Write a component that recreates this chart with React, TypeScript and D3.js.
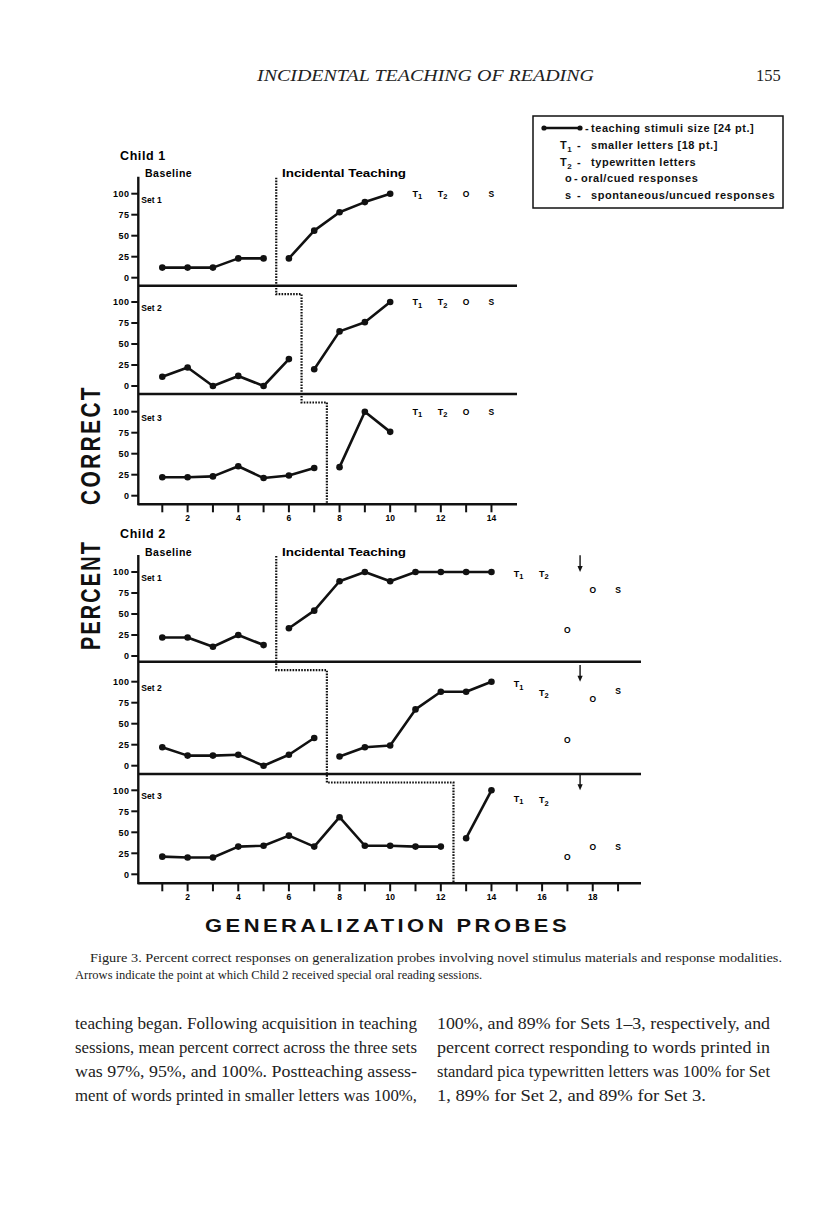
import React from "react";
import * as d3 from "d3";

// ---------- data ----------
const yTickValues = [0, 25, 50, 75, 100];
const child1TickSessions = [1, 2, 3, 4, 5, 6, 7, 8, 9, 10, 11, 12, 13, 14];
const child1TickLabels = [2, 4, 6, 8, 10, 12, 14];
const child2TickSessions = [1, 2, 3, 4, 5, 6, 7, 8, 9, 10, 11, 12, 13, 14, 15, 16, 17, 18, 19];
const child2TickLabels = [2, 4, 6, 8, 10, 12, 14, 16, 18];

// Child 1
const c1Set1Baseline = [12, 12, 12, 23, 23];
const c1Set1Teaching = [23, 56, 78, 90, 100];
const c1Set2Baseline = [11, 22, 0, 12, 0, 32];
const c1Set2Teaching = [20, 65, 76, 100];
const c1Set3Baseline = [22, 22, 23, 35, 21, 24, 33];
const c1Set3Teaching = [34, 100, 76];

// Child 2
const c2Set1Baseline = [22, 22, 11, 25, 13];
const c2Set1Teaching = [33, 54, 89, 100, 89, 100, 100, 100, 100];
const c2Set2Baseline = [22, 12, 12, 13, 0, 13, 33];
const c2Set2Teaching = [11, 22, 24, 67, 88, 88, 100];
const c2Set3Baseline = [21, 20, 20, 33, 34, 46, 33, 68, 34, 34, 33, 33];
const c2Set3Teaching = [43, 100];

// probe labels: [label, session, value]
const c1Set1Probes: [string, number, number][] = [["T1", 11, 100], ["T2", 12, 100], ["O", 13, 100], ["S", 14, 100]];
const c1Set2Probes: [string, number, number][] = [["T1", 11, 100], ["T2", 12, 100], ["O", 13, 100], ["S", 14, 100]];
const c1Set3Probes: [string, number, number][] = [["T1", 11, 100], ["T2", 12, 100], ["O", 13, 100], ["S", 14, 100]];
const c2Set1Probes: [string, number, number][] = [["T1", 15, 98], ["T2", 16, 98], ["O", 17, 31], ["O", 18, 79], ["S", 19, 79]];
const c2Set2Probes: [string, number, number][] = [["T1", 15, 97], ["T2", 16, 87], ["O", 17, 31], ["O", 18, 79], ["S", 19, 89]];
const c2Set3Probes: [string, number, number][] = [["T1", 15, 90], ["T2", 16, 88], ["O", 17, 21], ["O", 18, 32], ["S", 19, 32]];

const arrowSession = 17.5;
const arrowRange = [120, 100];

const legendItems = [
  ["line", "teaching stimuli size [24 pt.]"],
  ["T1", "smaller letters [18 pt.]"],
  ["T2", "typewritten letters"],
  ["o", "oral/cued responses"],
  ["s", "spontaneous/uncued responses"],
];

const captionLines = [
  "Figure 3.   Percent correct responses on generalization probes involving novel stimulus materials and response modalities.",
  "Arrows indicate the point at which Child 2 received special oral reading sessions.",
];
const leftColumn = [
  "teaching began. Following acquisition in teaching",
  "sessions, mean percent correct across the three sets",
  "was 97%, 95%, and 100%. Postteaching assess-",
  "ment of words printed in smaller letters was 100%,",
];
const rightColumn = [
  "100%, and 89% for Sets 1\u20133, respectively, and",
  "percent correct responding to words printed in",
  "standard pica typewritten letters was 100% for Set",
  "1, 89% for Set 2, and 89% for Set 3.",
];

// ---------- layout ----------
const SANS = "'Liberation Sans', Arial, sans-serif";
const SERIF = "'Liberation Serif', 'Times New Roman', serif";
const AXIS_X = 138.3;
const x = d3.scaleLinear().domain([1, 19]).range([162.3, 162.3 + 18 * 25.32]);

type Panel = {
  setName: string;
  baseline: number[];
  teaching: number[];
  probes: [string, number, number][];
  y0: number;
  bottom: number;
  arrow: boolean;
};

const child1Panels: Panel[] = [
  { setName: "Set  1", baseline: c1Set1Baseline, teaching: c1Set1Teaching, probes: c1Set1Probes, y0: 277.7, bottom: 285.7, arrow: false },
  { setName: "Set  2", baseline: c1Set2Baseline, teaching: c1Set2Teaching, probes: c1Set2Probes, y0: 386, bottom: 394, arrow: false },
  { setName: "Set  3", baseline: c1Set3Baseline, teaching: c1Set3Teaching, probes: c1Set3Probes, y0: 495.7, bottom: 504.3, arrow: false },
];
const child2Panels: Panel[] = [
  { setName: "Set  1", baseline: c2Set1Baseline, teaching: c2Set1Teaching, probes: c2Set1Probes, y0: 656, bottom: 661.7, arrow: true },
  { setName: "Set  2", baseline: c2Set2Baseline, teaching: c2Set2Teaching, probes: c2Set2Probes, y0: 765.7, bottom: 774, arrow: true },
  { setName: "Set  3", baseline: c2Set3Baseline, teaching: c2Set3Teaching, probes: c2Set3Probes, y0: 874.3, bottom: 883.3, arrow: true },
];

function ProbeLabel({ label, px, py }: { label: string; px: number; py: number }) {
  if (label.startsWith("T")) {
    return (
      <text x={px - 3} y={py + 3} fontFamily={SANS} fontWeight="bold" fontSize={9}>
        T<tspan dy={2.5} fontSize={7.5}>{label.slice(1)}</tspan>
      </text>
    );
  }
  return (
    <text x={px} y={py + 3} fontFamily={SANS} fontWeight="bold" fontSize={8.5} textAnchor="middle">
      {label}
    </text>
  );
}

function PanelView({ p, axisEnd }: { p: Panel; axisEnd: number }) {
  const y = d3.scaleLinear().domain([0, 100]).range([p.y0, p.y0 - 84]);
  const line = d3
    .line<[number, number]>()
    .x((d) => x(d[0]))
    .y((d) => y(d[1]));
  const basePts: [number, number][] = p.baseline.map((v, i) => [i + 1, v]);
  const teachPts: [number, number][] = p.teaching.map((v, i) => [p.baseline.length + 1 + i, v]);
  return (
    <g>
      <line x1={AXIS_X} x2={axisEnd} y1={p.bottom} y2={p.bottom} stroke="#111" strokeWidth={2.4} />
      {yTickValues.map((t) => (
        <g key={t}>
          <line x1={AXIS_X - 7} x2={AXIS_X} y1={y(t)} y2={y(t)} stroke="#111" strokeWidth={2} />
          <text x={AXIS_X - 9} y={y(t) + 3.3} textAnchor="end" fontFamily={SANS} fontWeight="bold" fontSize={9} letterSpacing={0.4}>
            {t}
          </text>
        </g>
      ))}
      <text x={AXIS_X + 3} y={y(100) + 9} fontFamily={SANS} fontWeight="bold" fontSize={8.5}>
        {p.setName}
      </text>
      {[basePts, teachPts].map((pts, k) => (
        <g key={k}>
          <path d={line(pts) || ""} fill="none" stroke="#111" strokeWidth={2.6} strokeLinejoin="round" />
          {pts.map((d, i) => (
            <circle key={i} cx={x(d[0])} cy={y(d[1])} r={3.3} fill="#111" />
          ))}
        </g>
      ))}
      {p.probes.map(([lab, s, v], i) => (
        <ProbeLabel key={i} label={lab} px={x(s)} py={y(v)} />
      ))}
      {p.arrow && (
        <g>
          <line x1={x(arrowSession)} x2={x(arrowSession)} y1={y(arrowRange[0])} y2={y(arrowRange[1]) - 5} stroke="#111" strokeWidth={1.4} />
          <path
            d={`M${x(arrowSession) - 2.6},${y(arrowRange[1]) - 6} L${x(arrowSession) + 2.6},${y(arrowRange[1]) - 6} L${x(arrowSession)},${y(arrowRange[1])} Z`}
            fill="#111"
          />
        </g>
      )}
    </g>
  );
}

function ChildBlock({
  panels,
  name,
  nameY,
  phaseY,
  axisTop,
  axisEnd,
  tickSessions,
  tickLabels,
}: {
  panels: Panel[];
  name: string;
  nameY: number;
  phaseY: number;
  axisTop: number;
  axisEnd: number;
  tickSessions: number[];
  tickLabels: number[];
}) {
  const last = panels[panels.length - 1];
  // staircase phase-change line
  let d = "";
  panels.forEach((p, i) => {
    const px = x(p.baseline.length + 0.5);
    if (i === 0) d += `M${px},${axisTop + 1}`;
    else {
      const prev = panels[i - 1];
      d += ` L${x(prev.baseline.length + 0.5)},${prev.bottom + 8.5} L${px},${prev.bottom + 8.5}`;
    }
  });
  d += ` L${x(last.baseline.length + 0.5)},${last.bottom}`;
  return (
    <g>
      <text x={120} y={nameY} fontFamily={SANS} fontWeight="bold" fontSize={12.5} letterSpacing={0.6}>
        {name}
      </text>
      <text x={145} y={phaseY} fontFamily={SANS} fontWeight="bold" fontSize={10.5} letterSpacing={0.5}>
        Baseline
      </text>
      <text x={282} y={phaseY} fontFamily={SANS} fontWeight="bold" fontSize={10.5} textLength={124} lengthAdjust="spacingAndGlyphs">
        Incidental Teaching
      </text>
      <line x1={AXIS_X} x2={AXIS_X} y1={axisTop} y2={last.bottom + 1} stroke="#111" strokeWidth={2.4} />
      {panels.map((p, i) => (
        <PanelView key={i} p={p} axisEnd={axisEnd} />
      ))}
      <path d={d} fill="none" stroke="#111" strokeWidth={2.2} strokeDasharray="1.6 1.3" />
      {tickSessions.map((s) => (
        <line key={s} x1={x(s)} x2={x(s)} y1={last.bottom} y2={last.bottom + 8} stroke="#111" strokeWidth={2} />
      ))}
      {tickLabels.map((s) => (
        <text key={s} x={x(s)} y={last.bottom + 17} textAnchor="middle" fontFamily={SANS} fontWeight="bold" fontSize={8.5}>
          {s}
        </text>
      ))}
    </g>
  );
}

function Legend() {
  const top = 116;
  const rowY = [128, 145, 162, 178.5, 195];
  return (
    <g fontFamily={SANS} fontWeight="bold" fontSize={11} fill="#111" letterSpacing={0.55}>
      <rect x={533} y={top} width={250} height={92} fill="none" stroke="#111" strokeWidth={1.5} />
      {legendItems.map(([key, label], i) => {
        const yy = rowY[i] + 3.8;
        let sym: React.ReactNode = null;
        if (key === "line") {
          sym = (
            <g>
              <line x1={544} x2={581} y1={rowY[i]} y2={rowY[i]} stroke="#111" strokeWidth={2.4} />
              <circle cx={544} cy={rowY[i]} r={2.6} fill="#111" />
              <circle cx={580} cy={rowY[i]} r={2.6} fill="#111" />
            </g>
          );
        } else if (key.startsWith("T")) {
          sym = (
            <text x={560} y={yy}>
              T<tspan dy={3} fontSize={8}>{key.slice(1)}</tspan>
            </text>
          );
        } else {
          sym = (
            <text x={565} y={yy}>
              {key}
            </text>
          );
        }
        const dashX = key === "line" ? 585 : key === "o" ? 574 : 577;
        const textX = key === "o" ? 581 : 591;
        return (
          <g key={i}>
            {sym}
            <text x={dashX} y={yy}>-</text>
            <text x={textX} y={yy}>{label}</text>
          </g>
        );
      })}
    </g>
  );
}

export default function App() {
  return (
    <svg
      width={816}
      height={1219}
      viewBox="0 0 816 1219"
      style={{ position: "absolute", left: 0, top: 0, display: "block", background: "#fff" }}
    >
      <rect x={0} y={0} width={816} height={1219} fill="#fff" />
      {/* running header */}
      <text x={257} y={81} fontFamily={SERIF} fontStyle="italic" fontSize={16.5} textLength={337} lengthAdjust="spacingAndGlyphs" fill="#222">
        INCIDENTAL TEACHING OF READING
      </text>
      <text x={756} y={81} fontFamily={SERIF} fontSize={16.5} fill="#222">
        155
      </text>

      <Legend />

      <ChildBlock
        panels={child1Panels}
        name="Child 1"
        nameY={159.5}
        phaseY={177}
        axisTop={176.7}
        axisEnd={517}
        tickSessions={child1TickSessions}
        tickLabels={child1TickLabels}
      />
      <ChildBlock
        panels={child2Panels}
        name="Child 2"
        nameY={538}
        phaseY={555.5}
        axisTop={555}
        axisEnd={641}
        tickSessions={child2TickSessions}
        tickLabels={child2TickLabels}
      />

      {/* y-axis title */}
      <g fontFamily={SANS} fontWeight="bold" fontSize={27} fill="#111" letterSpacing={3}>
        <text transform="translate(100,650) rotate(-90)" textLength={110} lengthAdjust="spacingAndGlyphs">
          PERCENT
        </text>
        <text transform="translate(100,505) rotate(-90)" textLength={120} lengthAdjust="spacingAndGlyphs">
          CORRECT
        </text>
      </g>
      {/* x-axis title */}
      <text
        x={205}
        y={932}
        fontFamily={SANS}
        fontWeight="bold"
        fontSize={19}
        letterSpacing={3}
        textLength={365}
        lengthAdjust="spacingAndGlyphs"
        fill="#111"
      >
        GENERALIZATION PROBES
      </text>

      {/* caption */}
      <text x={90} y={962} fontFamily={SERIF} fontSize={12.5} textLength={692} lengthAdjust="spacingAndGlyphs" fill="#222">
        {captionLines[0]}
      </text>
      <text x={75} y={979} fontFamily={SERIF} fontSize={12.5} fill="#222">
        {captionLines[1]}
      </text>

      {/* body text */}
      {leftColumn.map((t, i) => (
        <text key={"l" + i} x={75} y={1029 + i * 24} fontFamily={SERIF} fontSize={17} textLength={342} lengthAdjust="spacingAndGlyphs" fill="#222">
          {t}
        </text>
      ))}
      {rightColumn.map((t, i) => (
        <text
          key={"r" + i}
          x={437}
          y={1029 + i * 24}
          fontFamily={SERIF}
          fontSize={17}
          textLength={i === 3 ? 269 : 333}
          lengthAdjust="spacingAndGlyphs"
          fill="#222"
        >
          {t}
        </text>
      ))}
    </svg>
  );
}
